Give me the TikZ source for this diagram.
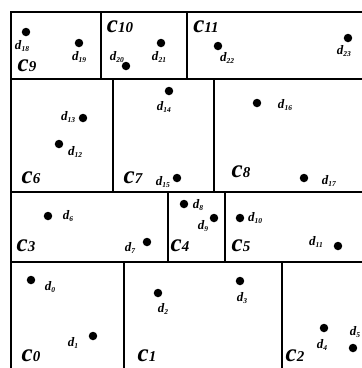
\documentclass[tikz,border=0pt]{standalone}
\usepackage{fontspec}
\setmainfont{Liberation Serif}
\begin{document}
\begin{tikzpicture}[x=1pt,y=-1pt,
  grid/.style={line width=1.8pt,line cap=rect},
  frame/.style={line width=2.6pt},
  pt/.style={circle,fill=black,inner sep=0pt,minimum size=8.5pt},
  dl/.style={inner sep=0pt,font=\bfseries\itshape\fontsize{13}{13}\selectfont},
  cl/.style={inner sep=0pt,font=\bfseries\itshape}]
\useasboundingbox (0,0) rectangle (362,368);
\newcommand{\dlab}[1]{d\raisebox{-1.5pt}{\fontsize{7.5}{7.5}\selectfont #1}}
\newcommand{\clab}[1]{{\fontsize{25}{25}\selectfont c}{\fontsize{15}{15}\selectfont #1}}

% outer frame: left and top edges
\draw[frame] (11,368) -- (11,12) -- (362,12);
% row boundaries
\draw[grid] (11,79) -- (362,79);
\draw[grid] (11,192) -- (362,192);
\draw[grid] (11,262) -- (362,262);
% cell dividers
\draw[grid] (101,12) -- (101,79);
\draw[grid] (187,12) -- (187,79);
\draw[grid] (113,79) -- (113,192);
\draw[grid] (214,79) -- (214,192);
\draw[grid] (168,192) -- (168,262);
\draw[grid] (225,192) -- (225,262);
\draw[grid] (124,262) -- (124,368);
\draw[grid] (282,262) -- (282,368);

% cell names
\node[cl] (c9)  at (27,66)  {\clab{9}};
\node[cl] (c10) at (120,27) {\clab{10}};
\node[cl] (c11) at (206,27) {\clab{11}};
\node[cl] (c6)  at (31,178) {\clab{6}};
\node[cl] (c7)  at (133,178) {\clab{7}};
\node[cl] (c8)  at (241,172) {\clab{8}};
\node[cl] (c3)  at (26,246) {\clab{3}};
\node[cl] (c4)  at (180,246) {\clab{4}};
\node[cl] (c5)  at (241,246) {\clab{5}};
\node[cl] (c0)  at (31,356) {\clab{0}};
\node[cl] (c1)  at (147,356) {\clab{1}};
\node[cl] (c2)  at (295,356) {\clab{2}};

% data points
\node[pt] (p18) at (26,32) {};   \node[dl] at (22,46)  {\dlab{18}};
\node[pt] (p19) at (79,43) {};   \node[dl] at (79,57)  {\dlab{19}};
\node[pt] (p20) at (126,66) {};  \node[dl] at (117,57) {\dlab{20}};
\node[pt] (p21) at (161,43) {};  \node[dl] at (159,57) {\dlab{21}};
\node[pt] (p22) at (218,46) {};  \node[dl] at (227,58) {\dlab{22}};
\node[pt] (p23) at (348,38) {};  \node[dl] at (344,51) {\dlab{23}};

\node[pt] (p13) at (83,118) {};  \node[dl] at (68,117) {\dlab{13}};
\node[pt] (p12) at (59,144) {};  \node[dl] at (75,152) {\dlab{12}};
\node[pt] (p14) at (169,91) {};  \node[dl] at (164,107) {\dlab{14}};
\node[pt] (p15) at (177,178) {}; \node[dl] at (163,182) {\dlab{15}};
\node[pt] (p16) at (257,103) {}; \node[dl] at (285,105) {\dlab{16}};
\node[pt] (p17) at (304,178) {}; \node[dl] at (329,181) {\dlab{17}};

\node[pt] (p6)  at (48,216) {};  \node[dl] at (68,216) {\dlab{6}};
\node[pt] (p7)  at (147,242) {}; \node[dl] at (130,248) {\dlab{7}};
\node[pt] (p8)  at (184,204) {}; \node[dl] at (198,205) {\dlab{8}};
\node[pt] (p9)  at (214,218) {}; \node[dl] at (203,226) {\dlab{9}};
\node[pt] (p10) at (240,218) {}; \node[dl] at (255,218) {\dlab{10}};
\node[pt] (p11) at (338,246) {}; \node[dl] at (316,242) {\dlab{11}};

\node[pt] (p0)  at (31,280) {};  \node[dl] at (50,287) {\dlab{0}};
\node[pt] (p1)  at (93,336) {};  \node[dl] at (73,343) {\dlab{1}};
\node[pt] (p2)  at (158,293) {}; \node[dl] at (163,309) {\dlab{2}};
\node[pt] (p3)  at (240,281) {}; \node[dl] at (242,298) {\dlab{3}};
\node[pt] (p4)  at (324,328) {}; \node[dl] at (322,345) {\dlab{4}};
\node[pt] (p5)  at (353,348) {}; \node[dl] at (355,332) {\dlab{5}};
\end{tikzpicture}
\end{document}
